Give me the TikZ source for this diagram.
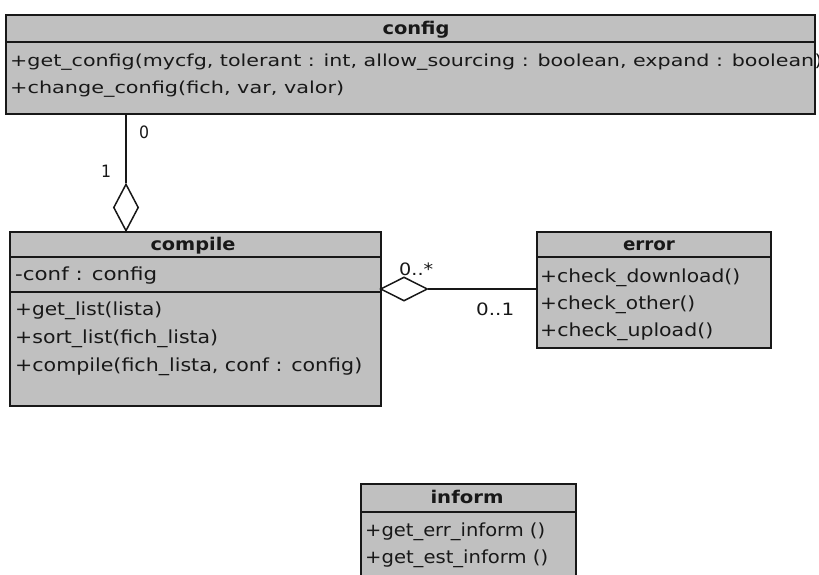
\documentclass[tikz,border=0pt]{standalone}
\usepackage{fontspec}
\usepackage{graphicx}
\setmainfont{DejaVu Sans}
\usetikzlibrary{shapes.geometric}
% stretch a line of text to a given width, keeping its height
\newcommand\fw[2]{\resizebox{#1pt}{\height}{#2}}
\definecolor{boxfill}{RGB}{192,192,192}
\definecolor{ink}{RGB}{24,24,24}
\tikzset{
  classbox/.style={draw=ink, line width=1.7pt, fill=boxfill, anchor=north west, inner sep=0pt},
  sepline/.style={draw=ink, line width=1.5pt},
  member/.style={anchor=base west, inner sep=0pt, text=ink, font=\fontsize{18}{21}\selectfont},
  cmember/.style={member, font=\fontsize{16.5}{19}\selectfont},
  ctitle/.style={anchor=base, inner sep=0pt, text=ink, font=\fontsize{17.5}{21}\selectfont\bfseries},
  mult/.style={anchor=base west, inner sep=0pt, text=ink, font=\fontsize{17}{20}\selectfont},
  agg/.style={diamond, draw=ink, line width=1.5pt, fill=white, inner sep=0pt},
  link/.style={draw=ink, line width=1.5pt}
}
\begin{document}
\begin{tikzpicture}[x=1pt, y=-1pt]
\useasboundingbox (0,0) rectangle (819,575);
\clip (0,0) rectangle (819,575);
\fill[white] (0,0) rectangle (819,575);

% class config
\node[classbox, minimum width=809pt, minimum height=99pt] (config) at (5,14) {};
\draw[sepline] (config.west |- 0,42) -- (config.east |- 0,42);
\node[ctitle] (configT) at (416,35) {\fw{67}{config}};
\node[cmember] (configM1) at (10,67) {\fw{812}{+get\_config(mycfg, tolerant : int, allow\_sourcing : boolean, expand : boolean)}};
\node[cmember] (configM2) at (10,94) {\fw{334}{+change\_config(fich, var, valor)}};

% class compile
\node[classbox, minimum width=371pt, minimum height=174pt] (compile) at (9,231) {};
\draw[sepline] (compile.west |- 0,257) -- (compile.east |- 0,257);
\draw[sepline] (compile.west |- 0,292) -- (compile.east |- 0,292);
\node[ctitle] (compileT) at (193,250) {\fw{85}{compile}};
\node[member] (compileA1) at (15,280) {\fw{142}{-conf : config}};
\node[member] (compileM1) at (15,315) {\fw{147}{+get\_list(lista)}};
\node[member] (compileM2) at (15,343) {\fw{203}{+sort\_list(fich\_lista)}};
\node[member] (compileM3) at (15,371) {\fw{347}{+compile(fich\_lista, conf : config)}};

% class error
\node[classbox, minimum width=234pt, minimum height=116pt] (error) at (536,231) {};
\draw[sepline] (error.west |- 0,257) -- (error.east |- 0,257);
\node[ctitle] (errorT) at (649,250) {\fw{52}{error}};
\node[member] (errorM1) at (540,282) {\fw{200}{+check\_download()}};
\node[member] (errorM2) at (540,309) {\fw{155}{+check\_other()}};
\node[member] (errorM3) at (540,336) {\fw{173}{+check\_upload()}};

% class inform
\node[classbox, minimum width=215pt, minimum height=110pt] (inform) at (360,483) {};
\draw[sepline] (inform.west |- 0,512) -- (inform.east |- 0,512);
\node[ctitle] (informT) at (467,503) {\fw{73}{inform}};
\node[member] (informM1) at (365,536) {\fw{180}{+get\_err\_inform ()}};
\node[member] (informM2) at (365,563) {\fw{183}{+get\_est\_inform ()}};

% aggregation config -- compile
\node[agg, minimum width=25pt, minimum height=47pt] (agg1) at (126,207.5) {};
\draw[link] (agg1.north) -- (agg1.north |- config.south);
\node[mult] (m0) at (139,139) {\fw{10}{0}};
\node[mult] (m1) at (101,178) {\fw{10}{1}};

% aggregation compile -- error
\node[agg, minimum width=47pt, minimum height=24pt] (agg2) at (404,289) {};
\draw[link] (agg2.east) -- (agg2.east -| error.west);
\node[mult] (m0n) at (399,275) {\fw{34}{0..*}};
\node[mult] (m01) at (476,315) {\fw{38}{0..1}};
\end{tikzpicture}
\end{document}
